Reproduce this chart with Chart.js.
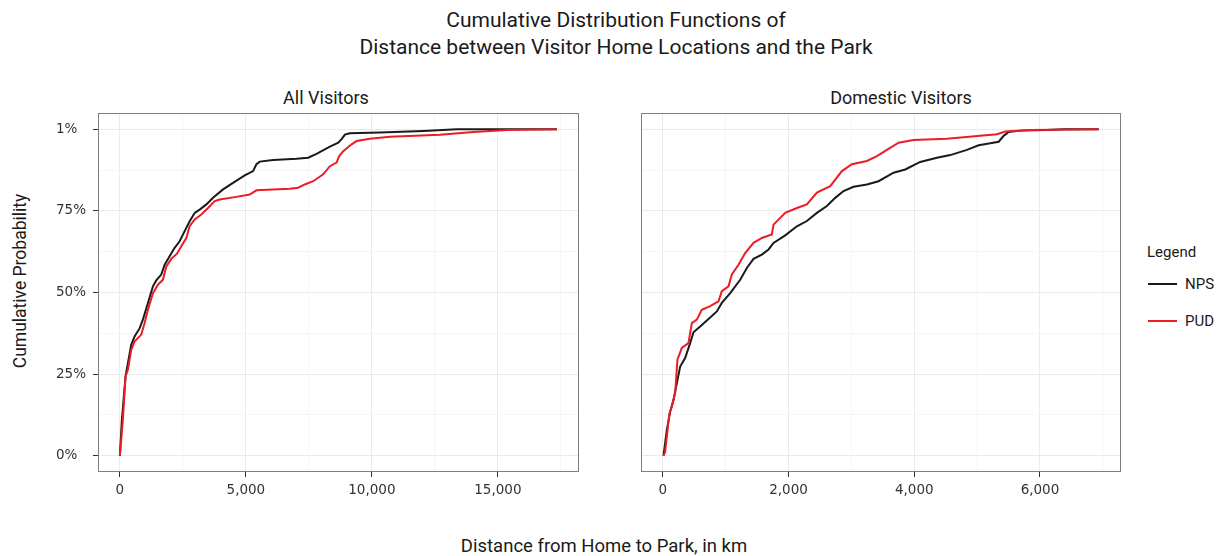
<!DOCTYPE html>
<html>
<head>
<meta charset="utf-8">
<script src="https://cdn.jsdelivr.net/npm/chart.js@4.4.1/dist/chart.umd.min.js"></script>
<style>
  html, body { margin: 0; padding: 0; background: #fff; }
  body { width: 1225px; height: 556px; position: relative; overflow: hidden; font-family: Roboto, "Liberation Sans", sans-serif; color: #1a1a1a; }
  .abs { position: absolute; white-space: nowrap; }
  #title { left: 0; width: 1232px; top: 7px; text-align: center; font-size: 21px; line-height: 27px; }
  .strip { top: 87px; font-size: 18px; transform: translateX(-50%); }
  #ytitle { left: 20px; top: 281px; transform: translate(-50%, -50%) rotate(-90deg); font-size: 17.5px; }
  #xtitle { left: 604px; top: 546px; transform: translate(-50%, -50%); font-size: 18.5px; }
  #legend { left: 1147px; top: 243px; font-size: 15px; }
  .lg-row { position: absolute; left: 0; white-space: nowrap; }
  .sw { position: absolute; left: 1px; width: 29px; height: 2px; }
  .lg-txt { position: absolute; left: 38px; transform: translateY(-50%); }
  canvas { position: absolute; top: 0; }
</style>
</head>
<body>
<div id="title" class="abs">Cumulative Distribution Functions of<br>Distance between Visitor Home Locations and the Park</div>
<div class="abs strip" style="left:326px;">All Visitors</div>
<div class="abs strip" style="left:901px;">Domestic Visitors</div>
<div id="ytitle" class="abs">Cumulative Probability</div>
<div id="xtitle" class="abs">Distance from Home to Park, in km</div>
<div id="legend" class="abs">
  <div class="lg-row" style="top:0">Legend</div>
  <div class="sw" style="top:40px;background:#1a1a1a"></div>
  <div class="lg-row lg-txt" style="top:41px">NPS</div>
  <div class="sw" style="top:77px;background:#ed1c24"></div>
  <div class="lg-row lg-txt" style="top:78px">PUD</div>
</div>
<canvas id="c1" width="600" height="556" style="left:0;width:600px;height:556px"></canvas>
<canvas id="c2" width="530" height="556" style="left:600px;width:530px;height:556px"></canvas>
<script>
// ---------- data ----------
const seriesNames = ["NPS", "PUD"];

const allNpsX = [0, 80, 225, 450, 583, 782, 914, 1113, 1312, 1444, 1643, 1776, 1974, 2173, 2372, 2571, 2769, 2968, 3167, 3432, 3697, 4094, 4492, 4955, 5287, 5419, 5552, 6082, 7009, 7473, 7804, 8334, 8666, 8798, 8931, 9129, 10322, 12044, 13369, 17344];
const allNpsY = [0, 0.11, 0.243, 0.34, 0.365, 0.39, 0.417, 0.468, 0.519, 0.537, 0.555, 0.585, 0.611, 0.637, 0.657, 0.688, 0.718, 0.744, 0.754, 0.77, 0.79, 0.816, 0.836, 0.859, 0.872, 0.893, 0.901, 0.906, 0.91, 0.913, 0.925, 0.947, 0.959, 0.97, 0.984, 0.988, 0.99, 0.995, 1.0, 1.0];

const allPudX = [0, 119, 225, 318, 450, 583, 848, 980, 1113, 1312, 1510, 1709, 1842, 2040, 2266, 2438, 2637, 2769, 2968, 3233, 3498, 3763, 3962, 4624, 5154, 5419, 6744, 7075, 7340, 7671, 8069, 8334, 8599, 8705, 8864, 9195, 9394, 9924, 10719, 12707, 14032, 15357, 17344];
const allPudY = [0, 0.11, 0.243, 0.263, 0.324, 0.35, 0.371, 0.406, 0.447, 0.498, 0.524, 0.539, 0.58, 0.603, 0.619, 0.642, 0.667, 0.703, 0.724, 0.739, 0.759, 0.78, 0.785, 0.793, 0.80, 0.813, 0.818, 0.821, 0.831, 0.841, 0.862, 0.887, 0.898, 0.918, 0.933, 0.954, 0.964, 0.971, 0.977, 0.983, 0.992, 0.998, 1.0];

const domNpsX = [11, 64, 117, 170, 223, 276, 355, 435, 488, 594, 727, 859, 939, 1072, 1231, 1337, 1443, 1576, 1682, 1761, 1947, 2133, 2292, 2451, 2610, 2743, 2875, 3034, 3247, 3432, 3671, 3857, 4095, 4361, 4573, 4838, 5024, 5210, 5343, 5422, 5502, 5687, 6112, 6377, 6934];
const domNpsY = [0, 0.079, 0.135, 0.171, 0.222, 0.273, 0.299, 0.345, 0.378, 0.396, 0.419, 0.442, 0.468, 0.498, 0.539, 0.575, 0.603, 0.616, 0.632, 0.652, 0.675, 0.703, 0.719, 0.744, 0.765, 0.79, 0.811, 0.824, 0.831, 0.841, 0.867, 0.877, 0.9, 0.913, 0.921, 0.937, 0.951, 0.957, 0.962, 0.98, 0.992, 0.996, 0.998, 1.0, 1.0];

const domPudX = [11, 37, 106, 143, 196, 233, 302, 408, 462, 541, 621, 753, 886, 939, 1045, 1098, 1204, 1310, 1443, 1576, 1735, 1761, 1947, 2133, 2292, 2451, 2663, 2849, 3008, 3247, 3406, 3565, 3751, 3989, 4520, 5050, 5316, 5449, 5846, 6934];
const domPudY = [0, 0.012, 0.13, 0.15, 0.191, 0.294, 0.33, 0.345, 0.406, 0.417, 0.447, 0.458, 0.473, 0.504, 0.519, 0.555, 0.585, 0.621, 0.652, 0.667, 0.678, 0.708, 0.744, 0.759, 0.77, 0.806, 0.826, 0.872, 0.893, 0.903, 0.918, 0.937, 0.959, 0.967, 0.971, 0.98, 0.985, 0.993, 0.998, 1.0];

const yTickValues = [0, 0.25, 0.5, 0.75, 1];
const yTickLabels = ["0%", "25%", "50%", "75%", "1%"];
const yMinorValues = [0.125, 0.375, 0.625, 0.875];
const allXTicks = [0, 5000, 10000, 15000];
const allXMinor = [2500, 7500, 12500, 17500];
const domXTicks = [0, 2000, 4000, 6000];
const domXMinor = [1000, 3000, 5000, 7000];

// ---------- styling ----------
const NPS_COLOR = "#1a1a1a";
const PUD_COLOR = "#ed1c24";
const TICK_FONT = "'DejaVu Sans', Roboto, sans-serif";
const MAJOR_GRID = "#ebebeb";
const MINOR_GRID = "#f5f5f5";
const TICK_COLOR = "#333333";

function zip(xs, ys) { return xs.map((x, i) => ({ x: x, y: ys[i] })); }

const borderPlugin = {
  id: "panelBorder",
  afterDraw(chart) {
    const a = chart.chartArea, ctx = chart.ctx;
    ctx.save();
    ctx.strokeStyle = "#7f7f7f";
    ctx.lineWidth = 1;
    ctx.strokeRect(Math.round(a.left) + 0.5, Math.round(a.top) + 0.5, Math.round(a.right - a.left) - 1, Math.round(a.bottom - a.top) - 1);
    ctx.restore();
  }
};

function makeScale(majors, minors, min, max) {
  const all = majors.concat(minors).sort((a, b) => a - b);
  const isMajor = v => majors.some(m => Math.abs(m - v) < 1e-9);
  return {
    type: "linear",
    min: min, max: max,
    afterBuildTicks: s => { s.ticks = all.map(v => ({ value: v })); },
    border: { display: false },
    grid: {
      color: c => (c.tick && isMajor(c.tick.value)) ? MAJOR_GRID : MINOR_GRID,
      lineWidth: 1,
      tickLength: 5,
      tickColor: c => (c.tick && isMajor(c.tick.value)) ? TICK_COLOR : "rgba(0,0,0,0)",
      drawTicks: true
    },
    ticks: {
      autoSkip: false,
      maxRotation: 0,
      color: "#333333",
      font: { family: TICK_FONT, size: 13.5 },
      padding: 5
    }
  };
}

function makeChart(id, nps, pud, xMajors, xMinors, xMin, xMax, showY, layoutPad, yWidth) {
  const xScale = makeScale(xMajors, xMinors, xMin, xMax);
  xScale.ticks.callback = v => xMajors.includes(v) ? v.toLocaleString("en-US") : "";
  xScale.afterFit = s => { s.height = 84; };
  const yScale = makeScale(yTickValues, yMinorValues, -0.05, 1.05);
  yScale.ticks.callback = v => { const i = yTickValues.indexOf(v); return i >= 0 ? yTickLabels[i] : ""; };
  yScale.ticks.crossAlign = "far";
  yScale.ticks.display = showY;
  yScale.grid.drawTicks = showY;
  yScale.afterFit = s => { s.width = yWidth; };
  return new Chart(document.getElementById(id), {
    type: "line",
    data: {
      datasets: [
        { label: seriesNames[0], data: nps, borderColor: NPS_COLOR, borderWidth: 2, pointRadius: 0, tension: 0, fill: false, order: 2 },
        { label: seriesNames[1], data: pud, borderColor: PUD_COLOR, borderWidth: 2, pointRadius: 0, tension: 0, fill: false, order: 1 }
      ]
    },
    options: {
      responsive: false,
      animation: false,
      layout: { padding: layoutPad },
      plugins: { legend: { display: false }, tooltip: { enabled: false }, title: { display: false } },
      scales: { x: xScale, y: yScale }
    },
    plugins: [borderPlugin]
  });
}

makeChart("c1", zip(allNpsX, allNpsY), zip(allPudX, allPudY), allXTicks, allXMinor, -868, 18220, true,
  { left: 56, top: 113, right: 21, bottom: 0 }, 42);
makeChart("c2", zip(domNpsX, domNpsY), zip(domPudX, domPudY), domXTicks, domXMinor, -347, 7289, false,
  { left: 0, top: 113, right: 9, bottom: 0 }, 41);
</script>
</body>
</html>
